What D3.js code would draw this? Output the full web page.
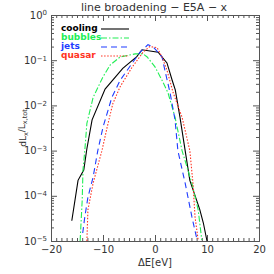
<!DOCTYPE html>
<html>
<head>
<meta charset="utf-8">
<script src="https://cdnjs.cloudflare.com/ajax/libs/d3/7.8.5/d3.min.js"></script>
<style>
  body { margin: 0; background: #fff; }
  svg text { font-family: "DejaVu Sans", sans-serif; fill: #333; }
</style>
</head>
<body>
<div id="chart"></div>
<script>
// line profiles: [dE in eV, dL_x / L_x,tot]
var cooling = [[-16, 2.8e-5], [-14.8, 2.2e-4], [-13.7, 3.7e-4], [-13.1, 1.1e-3], [-12.1, 4.8e-3],
  [-9.6, 2.3e-2], [-6.2, 6.6e-2], [-3.5, 0.12], [-2.5, 0.17], [0.6, 0.15], [2.3, 0.087],
  [3.3, 0.036], [3.9, 0.022], [4.8, 5.5e-3], [5.8, 1.0e-3], [6.7, 2.2e-4], [8.6, 5e-5],
  [9.3, 2.5e-5], [10, 1e-5]];
var bubbles = [[-14.4, 1e-5], [-14.0, 8e-5], [-13.85, 3.7e-4], [-13.5, 1.0e-3], [-13.1, 4e-3],
  [-11.9, 1.5e-2], [-10, 4.3e-2], [-8.6, 7.9e-2], [-6.7, 0.118], [-3.8, 0.138], [-2.3, 0.138],
  [-1.5, 0.118], [0, 0.071], [1.35, 0.036], [2.5, 0.019], [3.85, 5.5e-3], [5.2, 1.0e-3],
  [7.1, 1.9e-4], [8.3, 4.9e-5], [9.0, 1.05e-5]];
var jets = [[-13.9, 1.5e-5], [-13.5, 3.4e-5], [-12.9, 9.3e-5], [-11.9, 2.6e-4], [-11, 1.0e-3],
  [-10, 3.3e-3], [-8.3, 1.5e-2], [-6.7, 3.6e-2], [-2.9, 0.15], [-1.35, 0.22], [-0.4, 0.2],
  [1.35, 0.118], [1.9, 0.06], [2.9, 0.019], [3.85, 4.8e-3], [4.4, 1.0e-3], [5.8, 1.9e-4],
  [7.1, 3.4e-5], [8.1, 1.05e-5]];
var quasar = [[-13.1, 1e-5], [-12.9, 4.9e-5], [-11.9, 1.9e-4], [-10.2, 1.0e-3], [-9.2, 3.3e-3],
  [-8.1, 1.1e-2], [-6.7, 2.6e-2], [-4.4, 7e-2], [-2.3, 0.15], [-1, 0.2], [0.4, 0.19],
  [1.35, 0.118], [2.3, 0.06], [3.5, 0.019], [5.2, 5.5e-3], [6.7, 1.0e-3], [7.3, 1.9e-4],
  [7.7, 3.4e-5], [8.3, 1.05e-5]];

var seriesNames = ["cooling", "bubbles", "jets", "quasar"];
var seriesData = [cooling, bubbles, jets, quasar];
var seriesColors = ["#000000", "#22ee55", "#1f3cff", "#ff3322"];
var seriesDash = [null, "6,2,1.5,2", "6,4", "1.5,1.6"];

var xTicks = [-20, -10, 0, 10, 20];
var yTicks = [1e-5, 1e-4, 1e-3, 1e-2, 1e-1, 1];

var W = 274, H = 274;
// plot frame (top is a reserved window name, so keep these in an object)
var frame = { left: 51, right: 259, top: 15, bottom: 241 };

var x = d3.scaleLinear().domain([-20, 20]).range([frame.left, frame.right]);
var y = d3.scaleLog().domain([1e-5, 1]).range([frame.bottom, frame.top]);

var svg = d3.select("#chart").append("svg").attr("width", W).attr("height", H);

svg.append("defs").append("clipPath").attr("id", "clip")
  .append("rect").attr("x", frame.left).attr("y", frame.top)
  .attr("width", frame.right - frame.left).attr("height", frame.bottom - frame.top);

// minor ticks
var xMinor = d3.range(-20, 21, 1).filter(function (v) { return v % 10 != 0; });
var yMinor = [];
for (var e = -5; e < 0; e++) {
  for (var m = 2; m < 10; m++) yMinor.push(m * Math.pow(10, e));
}

var axisColor = "#555";

function styleAxis(g) {
  g.select(".domain").attr("stroke", axisColor);
  g.selectAll(".tick line").attr("stroke", axisColor);
}

// bottom
svg.append("g").attr("transform", "translate(0," + frame.bottom + ")")
  .call(d3.axisBottom(x).tickValues(xTicks).tickSize(-6).tickSizeOuter(0).tickPadding(5)
    .tickFormat(function (d) { return d < 0 ? "\u2212" + Math.abs(d) : d; }))
  .call(styleAxis)
  .call(function (g) { g.selectAll(".tick text").attr("font-size", 10).attr("fill", "#333"); });
svg.append("g").attr("transform", "translate(0," + frame.bottom + ")")
  .call(d3.axisBottom(x).tickValues(xMinor).tickSize(-3).tickSizeOuter(0).tickFormat(""))
  .call(styleAxis);

// top
svg.append("g").attr("transform", "translate(0," + frame.top + ")")
  .call(d3.axisTop(x).tickValues(xTicks).tickSize(-6).tickSizeOuter(0).tickFormat(""))
  .call(styleAxis);
svg.append("g").attr("transform", "translate(0," + frame.top + ")")
  .call(d3.axisTop(x).tickValues(xMinor).tickSize(-3).tickSizeOuter(0).tickFormat(""))
  .call(styleAxis);

// left
svg.append("g").attr("transform", "translate(" + frame.left + ",0)")
  .call(d3.axisLeft(y).tickValues(yTicks).tickSize(-6).tickSizeOuter(0).tickPadding(4)
    .tickFormat(""))
  .call(styleAxis)
  .call(function (g) {
    g.selectAll(".tick text").each(function (d) {
      var ex = Math.round(Math.log10(d));
      var t = d3.select(this).attr("font-size", 10).attr("fill", "#333").attr("dy", "0.3em");
      t.append("tspan").text("10");
      t.append("tspan").attr("dy", "-0.45em").attr("font-size", 7)
        .text(ex == 0 ? "0" : "\u2212" + Math.abs(ex));
    });
  });
svg.append("g").attr("transform", "translate(" + frame.left + ",0)")
  .call(d3.axisLeft(y).tickValues(yMinor).tickSize(-3).tickSizeOuter(0).tickFormat(""))
  .call(styleAxis);

// right
svg.append("g").attr("transform", "translate(" + frame.right + ",0)")
  .call(d3.axisRight(y).tickValues(yTicks).tickSize(-6).tickSizeOuter(0).tickFormat(""))
  .call(styleAxis);
svg.append("g").attr("transform", "translate(" + frame.right + ",0)")
  .call(d3.axisRight(y).tickValues(yMinor).tickSize(-3).tickSizeOuter(0).tickFormat(""))
  .call(styleAxis);

// curves
var line = d3.line().x(function (d) { return x(d[0]); }).y(function (d) { return y(d[1]); });
var plot = svg.append("g").attr("clip-path", "url(#clip)");
seriesData.forEach(function (s, i) {
  plot.append("path").datum(s)
    .attr("d", line)
    .attr("fill", "none")
    .attr("stroke", seriesColors[i])
    .attr("stroke-width", 1.1)
    .attr("stroke-dasharray", seriesDash[i]);
});

// legend
var legend = svg.append("g");
seriesNames.forEach(function (name, i) {
  var ly = 29 + i * 9;
  legend.append("text").attr("x", 61).attr("y", ly + 2)
    .attr("font-family", "Liberation Sans, sans-serif")
    .attr("font-weight", "bold").attr("font-size", 9)
    .style("fill", seriesColors[i]).text(name);
  legend.append("line").attr("x1", 101).attr("x2", 129).attr("y1", ly).attr("y2", ly)
    .attr("stroke", seriesColors[i]).attr("stroke-width", 1.1)
    .attr("stroke-dasharray", seriesDash[i]);
});

// title
svg.append("text").attr("x", 154).attr("y", 11).attr("text-anchor", "middle")
  .attr("font-size", 11).text("line broadening \u2212 E5A \u2212 x");

// x label
svg.append("text").attr("x", 155).attr("y", 266).attr("text-anchor", "middle")
  .attr("font-size", 10).text("\u0394E[eV]");

// y label
var yl = svg.append("text").attr("transform", "translate(26,128) rotate(-90)")
  .attr("text-anchor", "middle").attr("font-size", 9);
yl.append("tspan").text("dL");
yl.append("tspan").attr("dy", "0.3em").attr("font-size", 6.5).text("x");
yl.append("tspan").attr("dy", "-0.3em").text("/L");
yl.append("tspan").attr("dy", "0.3em").attr("font-size", 6.5).text("x,tot");
</script>
</body>
</html>
